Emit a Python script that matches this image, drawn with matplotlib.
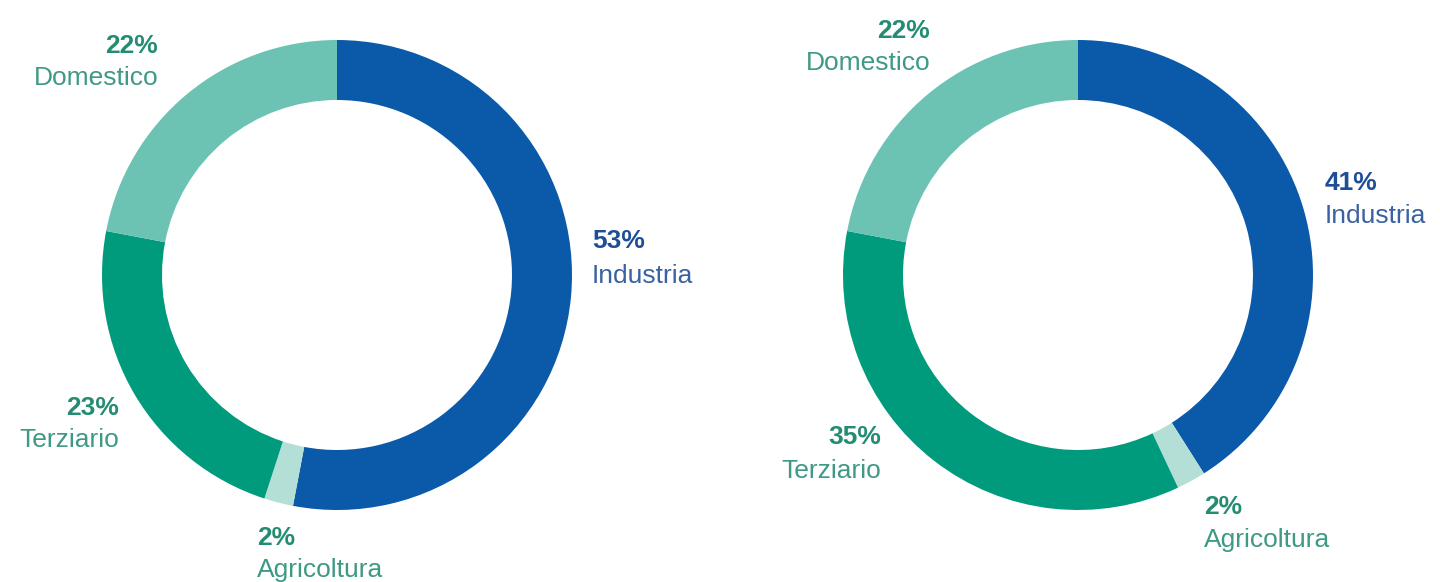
import matplotlib
matplotlib.use("Agg")
import matplotlib.pyplot as plt

categories = ["Industria", "Agricoltura", "Terziario", "Domestico"]
left_values = [53, 2, 23, 22]
right_values = [41, 2, 35, 22]
colors = ["#0A5AA9", "#B3DFD6", "#009B7D", "#6CC3B3"]

W, H = 1440, 582
fig = plt.figure(figsize=(W / 100, H / 100), dpi=100)
ax = fig.add_axes([0, 0, 1, 1])
ax.set_xlim(0, W)
ax.set_ylim(0, H)
ax.axis("off")

R = 235
RING = 60

def donut(cx, cy, values):
    ax.pie(values, colors=colors, startangle=90, counterclock=False,
           center=(cx, H - cy), radius=R,
           wedgeprops=dict(width=RING, edgecolor="none", linewidth=0))

donut(337, 275, left_values)
donut(1078, 275, right_values)
ax.set_xlim(0, W)
ax.set_ylim(0, H)
ax.set_aspect("auto")

font = ["Liberation Sans", "DejaVu Sans"]
teal_pct = "#238C72"
teal_lbl = "#3E9985"
blue_pct = "#1F4E96"
blue_lbl = "#3A62A0"

def label(x, y_pct, y_lbl, pct, name, ha, cpct, clbl):
    ax.text(x, H - y_pct, f"{pct}%", ha=ha, va="baseline", fontsize=19,
            fontweight="bold", color=cpct, family=font)
    ax.text(x, H - y_lbl, name, ha=ha, va="baseline", fontsize=19,
            color=clbl, family=font)

# left chart labels
label(158, 53, 85, left_values[3], categories[3], "right", teal_pct, teal_lbl)
label(592, 248, 283, left_values[0], categories[0], "left", blue_pct, blue_lbl)
label(119, 415, 447, left_values[2], categories[2], "right", teal_pct, teal_lbl)
label(257, 545, 577, left_values[1], categories[1], "left", teal_pct, teal_lbl)

# right chart labels
label(930, 38, 70, right_values[3], categories[3], "right", teal_pct, teal_lbl)
label(1325, 190, 223, right_values[0], categories[0], "left", blue_pct, blue_lbl)
label(881, 444, 478, right_values[2], categories[2], "right", teal_pct, teal_lbl)
label(1204, 514, 547, right_values[1], categories[1], "left", teal_pct, teal_lbl)

fig.savefig("out.png", dpi=100, facecolor="white")
